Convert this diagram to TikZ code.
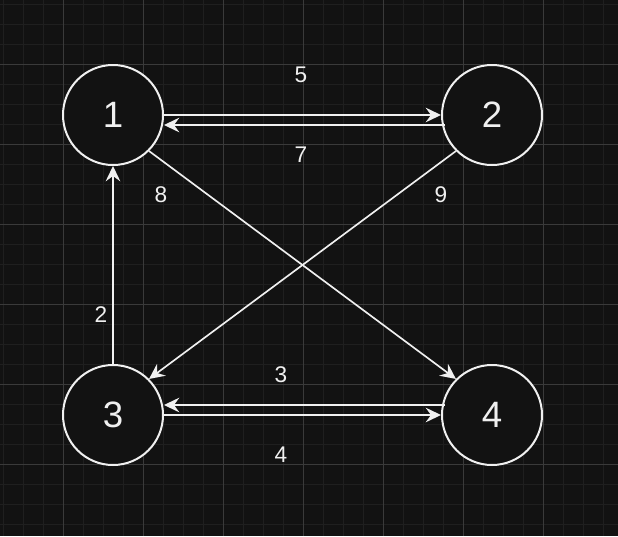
\documentclass[tikz,border=0pt]{standalone}
\usepackage{fontspec}
\setmainfont{Liberation Sans}
\usetikzlibrary{arrows.meta,positioning}
\definecolor{fondo}{RGB}{18,18,18}
\definecolor{rejilla}{RGB}{31,31,31}
\definecolor{rejillaf}{RGB}{58,58,58}
\definecolor{trazo}{RGB}{240,240,240}
\tikzset{
  estado/.style={circle, draw=trazo, line width=1.5pt, fill=fondo, minimum size=75pt, inner sep=0pt, text=trazo, font=\fontsize{27.5}{27.5}\selectfont},
  fl/.style={-{Stealth[length=11.5pt,width=11pt,inset=4pt]}, line width=1.25pt, trazo},
  peso/.style={text=trazo, inner sep=0pt, font=\fontsize{17}{17}\selectfont},
  fina/.style={rejilla, line width=0.75pt},
  gruesa/.style={rejillaf, line width=0.75pt},
}
\begin{document}
\begin{tikzpicture}[x=0.75pt, y=-0.75pt, node distance=225pt and 284.25pt, on grid]
  \useasboundingbox (0,0) rectangle (618,536);
  \fill[fondo] (0,0) rectangle (618,536);
  % rejilla
  \foreach \x in {3,23,...,603} \draw[fina] (\x,0) -- (\x,536);
  \foreach \y in {4,24,...,524} \draw[fina] (0,\y) -- (618,\y);
  \foreach \x in {63,143,...,543} \draw[gruesa] (\x,0) -- (\x,536);
  \foreach \y in {64,144,...,464} \draw[gruesa] (0,\y) -- (618,\y);
  % estados
  \node[estado] (n1) at (113,115) {1};
  \node[estado, right=of n1] (n2) {2};
  \node[estado, below=of n1] (n3) {3};
  \node[estado, right=of n3] (n4) {4};
  % aristas
  \draw[fl] (n1.east) -- (n2.west);
  \draw[fl] ([xshift=3pt,yshift=-7.5pt]n2.west) -- ([yshift=-7.5pt]n1.east);
  \draw[fl] (n3.north) -- (n1.south);
  \draw[fl] (n1.south east) -- (n4.north west);
  \draw[fl] (n2.south west) -- (n3.north east);
  \draw[fl] ([xshift=3pt,yshift=7.5pt]n4.west) -- ([yshift=7.5pt]n3.east);
  \draw[fl] (n3.east) -- (n4.west);
  % pesos
  \node[peso] (p5) at (301,75) {5};
  \node[peso] (p7) at (301,155) {7};
  \node[peso] (p8) at (161,195) {8};
  \node[peso] (p9) at (441,195) {9};
  \node[peso] (p2) at (101,315) {2};
  \node[peso] (p3) at (281,375) {3};
  \node[peso] (p4) at (281,455) {4};
\end{tikzpicture}
\end{document}
